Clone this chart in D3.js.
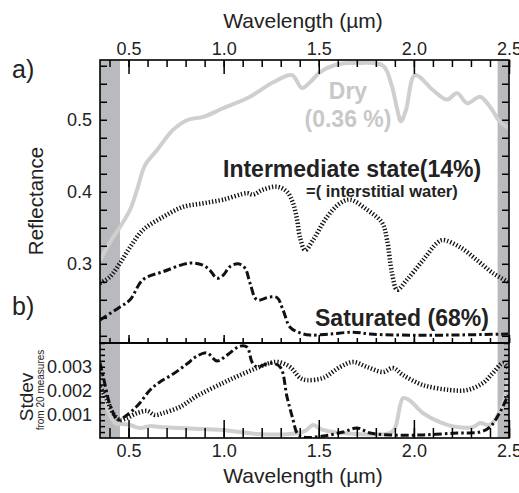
<!DOCTYPE html>
<html>
<head>
<meta charset="utf-8">
<script src="https://cdn.jsdelivr.net/npm/d3@7"></script>
<style>
  body { margin: 0; background: #fff; }
  text { font-family: "Liberation Sans", Arial, Helvetica, sans-serif; }
</style>
</head>
<body>
<svg id="chart" width="519" height="493"></svg>
<script>
// ---- tick labels ----
const wavelengthTicks = [0.5, 1.0, 1.5, 2.0, 2.5];
const reflectanceTicks = [0.3, 0.4, 0.5];
const stdevTicks = [0.001, 0.002, 0.003];

// ---- masked (noisy) spectral ranges, µm ----
const maskedRanges = [[0.35, 0.455], [2.44, 2.5]];

// ---- a) reflectance spectra ----
const dryWl = [0.35,0.403,0.455,0.508,0.545,0.587,0.65,0.734,0.813,0.892,0.997,1.139,1.26,1.359,1.412,1.454,1.507,1.586,1.717,1.838,1.885,1.911,1.932,1.959,2.006,2.101,2.174,2.227,2.28,2.348,2.4,2.453,2.495];
const dryRefl = [0.305,0.330,0.351,0.375,0.403,0.437,0.458,0.486,0.500,0.504,0.516,0.532,0.552,0.562,0.544,0.552,0.566,0.576,0.579,0.575,0.546,0.516,0.498,0.514,0.562,0.541,0.528,0.537,0.523,0.532,0.518,0.497,0.489];

const interWl = [0.35,0.403,0.455,0.508,0.576,0.681,0.786,0.892,0.997,1.123,1.154,1.207,1.281,1.333,1.365,1.386,1.402,1.428,1.47,1.543,1.612,1.664,1.754,1.833,1.859,1.885,1.912,1.964,2.048,2.122,2.153,2.243,2.332,2.416,2.495];
const interRefl = [0.273,0.282,0.301,0.323,0.347,0.365,0.379,0.384,0.389,0.398,0.396,0.403,0.407,0.400,0.384,0.361,0.336,0.319,0.333,0.365,0.384,0.389,0.375,0.357,0.333,0.287,0.264,0.278,0.305,0.329,0.333,0.323,0.305,0.287,0.275];

const satWl = [0.35,0.455,0.508,0.576,0.681,0.823,0.892,0.928,0.965,0.997,1.033,1.076,1.112,1.139,1.175,1.244,1.281,1.312,1.349,1.402,1.454,1.559,1.68,1.77,1.93,2.19,2.495];
const satRefl = [0.222,0.24,0.25,0.278,0.289,0.301,0.298,0.291,0.28,0.284,0.296,0.3,0.294,0.273,0.25,0.254,0.253,0.236,0.212,0.204,0.201,0.2025,0.205,0.2025,0.201,0.201,0.2025];

// ---- b) standard deviation of 20 measures ----
const dryStdWl = [0.35,0.376,0.403,0.429,0.471,0.508,0.56,0.613,0.665,0.77,0.876,0.997,1.175,1.349,1.428,1.47,1.522,1.701,1.875,1.901,1.943,1.975,2.048,2.137,2.227,2.311,2.348,2.4,2.453,2.474,2.495];
const dryStd = [0.00202,0.00152,0.00097,0.00063,0.00059,0.00055,0.00042,0.0005,0.00046,0.00042,0.00038,0.00034,0.00017,0.00017,0.0003,0.00055,0.00034,0.00017,0.00021,0.00042,0.00168,0.0016,0.00105,0.00067,0.00046,0.00046,0.00063,0.00055,0.00114,0.0016,0.00244];

const interStdWl = [0.35,0.387,0.418,0.455,0.492,0.545,0.597,0.639,0.681,0.771,0.86,0.997,1.086,1.175,1.244,1.286,1.349,1.402,1.438,1.522,1.612,1.68,1.754,1.838,1.89,1.943,2.048,2.19,2.28,2.364,2.416,2.469,2.495];
const interStd = [0.00215,0.0016,0.00105,0.00076,0.00084,0.00105,0.00114,0.00097,0.00105,0.00131,0.00177,0.00232,0.00265,0.00295,0.00316,0.0032,0.00299,0.00253,0.00244,0.00253,0.00299,0.0032,0.00299,0.00278,0.00295,0.00265,0.00223,0.00202,0.00202,0.00232,0.00274,0.00316,0.00295];

const satStdWl = [0.35,0.371,0.403,0.445,0.492,0.55,0.613,0.665,0.734,0.807,0.86,0.913,0.965,1.018,1.086,1.123,1.149,1.175,1.244,1.297,1.333,1.365,1.386,1.417,1.522,1.628,1.701,1.77,1.875,2.048,2.227,2.348,2.4,2.453,2.495];
const satStd = [0.00316,0.00244,0.00139,0.00076,0.00097,0.00139,0.00202,0.00236,0.00269,0.00312,0.00345,0.00358,0.00324,0.00349,0.00387,0.00383,0.0032,0.00299,0.00316,0.00299,0.00173,0.00076,0.00021,0.00004,0.00008,0.00025,0.00042,0.00021,0.00013,0.00013,0.00021,0.00025,0.00046,0.00109,0.00181];

// ---- layout ----
const L = 100, R = 509, topA = 60, botA = 343, botB = 438;
const svg = d3.select("#chart");

const x = d3.scaleLinear().domain([0.35, 2.5]).range([L, R]);
const yA = d3.scaleLinear().domain([0.19, 0.583]).range([botA, topA]);
const yB = d3.scaleLinear().domain([0, 0.004]).range([botB, botA]);

const grey = "#b9babe";
const dryColor = "#cfcfcf";

// masked bands
svg.append("g").selectAll("rect").data(maskedRanges).join("rect")
  .attr("x", d => x(d[0])).attr("width", d => x(d[1]) - x(d[0]))
  .attr("y", topA).attr("height", botB - topA)
  .attr("fill", grey);

// clip paths for both panels
const defs = svg.append("defs");
defs.append("clipPath").attr("id", "clipA").append("rect")
  .attr("x", L).attr("y", topA).attr("width", R - L).attr("height", botA - topA);
defs.append("clipPath").attr("id", "clipB").append("rect")
  .attr("x", L).attr("y", botA).attr("width", R - L).attr("height", botB - botA);

function zip(ws, vs) { return ws.map((w, i) => [w, vs[i]]); }

const styles = {
  dry:   { stroke: dryColor, width: 4, dash: null },
  inter: { stroke: "#111", width: 4.5, dash: "1.3,2" },
  sat:   { stroke: "#111", width: 3, dash: "8,3,2.5,3" }
};

function drawLine(g, pts, y, st) {
  const line = d3.line().x(d => x(d[0])).y(d => y(d[1])).curve(d3.curveCatmullRom.alpha(0.5));
  g.append("path").datum(pts)
    .attr("d", line)
    .attr("fill", "none")
    .attr("stroke", st.stroke)
    .attr("stroke-width", st.width)
    .attr("stroke-linejoin", "round")
    .attr("stroke-dasharray", st.dash);
}

const gA = svg.append("g").attr("clip-path", "url(#clipA)");
drawLine(gA, zip(dryWl, dryRefl), yA, styles.dry);
drawLine(gA, zip(interWl, interRefl), yA, styles.inter);
drawLine(gA, zip(satWl, satRefl), yA, styles.sat);

const gB = svg.append("g").attr("clip-path", "url(#clipB)");
drawLine(gB, zip(dryStdWl, dryStd), yB, styles.dry);
drawLine(gB, zip(interStdWl, interStd), yB, styles.inter);
drawLine(gB, zip(satStdWl, satStd), yB, styles.sat);

// ---- axes / ticks ----
const minorW = d3.range(4, 26).map(i => i / 10);
const minorRefl = d3.range(8, 24).map(i => i * 0.025);
const minorStd = d3.range(1, 17).map(i => i * 0.00025);

function tickAxis(axis, values, size, tx, ty) {
  svg.append("g")
    .attr("transform", `translate(${tx},${ty})`)
    .call(axis.tickValues(values).tickSize(size).tickFormat(""))
    .call(g => g.select(".domain").remove())
    .call(g => g.selectAll("line").attr("stroke", "#000").attr("stroke-width", 1.5));
}

// top of panel a (ticks point down, into the plot)
tickAxis(d3.axisTop(x), minorW, -7, 0, topA);
tickAxis(d3.axisTop(x), wavelengthTicks, -14, 0, topA);
// bottom of panel a (ticks point up)
tickAxis(d3.axisBottom(x), minorW, -5, 0, botA);
tickAxis(d3.axisBottom(x), wavelengthTicks, -8, 0, botA);
// bottom of panel b (ticks point up)
tickAxis(d3.axisBottom(x), minorW, -10, 0, botB);
tickAxis(d3.axisBottom(x), wavelengthTicks, -18, 0, botB);
// left / right of panel a
tickAxis(d3.axisLeft(yA), minorRefl, -7, L, 0);
tickAxis(d3.axisRight(yA), minorRefl, -7, R, 0);
// left / right of panel b
tickAxis(d3.axisLeft(yB), minorStd, -5, L, 0);
tickAxis(d3.axisRight(yB), minorStd, -5, R, 0);

// frames
[[topA, botA], [botA, botB]].forEach(([t, b]) => {
  svg.append("rect").attr("x", L).attr("y", t).attr("width", R - L).attr("height", b - t)
    .attr("fill", "none").attr("stroke", "#000").attr("stroke-width", 1.6);
});

// tick labels
const fmt1 = d3.format(".1f");
function labelAxis(axis, values, fmt, tx, ty, pad) {
  svg.append("g")
    .attr("transform", `translate(${tx},${ty})`)
    .call(axis.tickValues(values).tickSize(0).tickPadding(pad).tickFormat(fmt))
    .call(g => g.select(".domain").remove())
    .call(g => g.selectAll("text").attr("font-size", 18).attr("fill", "#222")
      .style("font-family", '"Liberation Sans", Arial, sans-serif'));
}
labelAxis(d3.axisTop(x), wavelengthTicks, fmt1, 0, topA, 5);
labelAxis(d3.axisBottom(x), wavelengthTicks, fmt1, 0, botB, 6);
labelAxis(d3.axisLeft(yA), reflectanceTicks, fmt1, L, 0, 8);
labelAxis(d3.axisLeft(yB), stdevTicks, d3.format(".3f"), L, 0, 8);

// axis titles
const txt = (s, xx, yy, size, opts = {}) => svg.append("text").text(s)
  .attr("x", xx).attr("y", yy).attr("font-size", size)
  .attr("fill", opts.fill || "#222")
  .attr("font-weight", opts.weight || "normal")
  .attr("text-anchor", opts.anchor || "start")
  .attr("transform", opts.transform || null);

txt("Wavelength (µm)", 303, 28, 21, { anchor: "middle" });
txt("Wavelength (µm)", 303, 483, 21, { anchor: "middle" });
txt("Reflectance", 0, 0, 20.5, { anchor: "middle", transform: "translate(43,201) rotate(-90)" });
txt("Stdev", 0, 0, 19, { anchor: "middle", transform: "translate(33,397) rotate(-90)" });
txt("from 20 measures", 0, 0, 10, { anchor: "middle", transform: "translate(44,390) rotate(-90)" });

// panel letters
txt("a)", 12, 78, 25);
txt("b)", 12, 315, 25);

// series annotations
txt("Dry", 348, 99, 23, { anchor: "middle", weight: "bold", fill: "#c8c8c8" });
txt("(0.36 %)", 348, 127, 23, { anchor: "middle", weight: "bold", fill: "#c8c8c8" });
txt("Intermediate state(14%)", 223, 177, 23, { weight: "bold" });
txt("=( interstitial water)", 306, 197, 16.5, { weight: "bold" });
txt("Saturated (68%)", 315, 326, 23, { weight: "bold" });
</script>
</body>
</html>
